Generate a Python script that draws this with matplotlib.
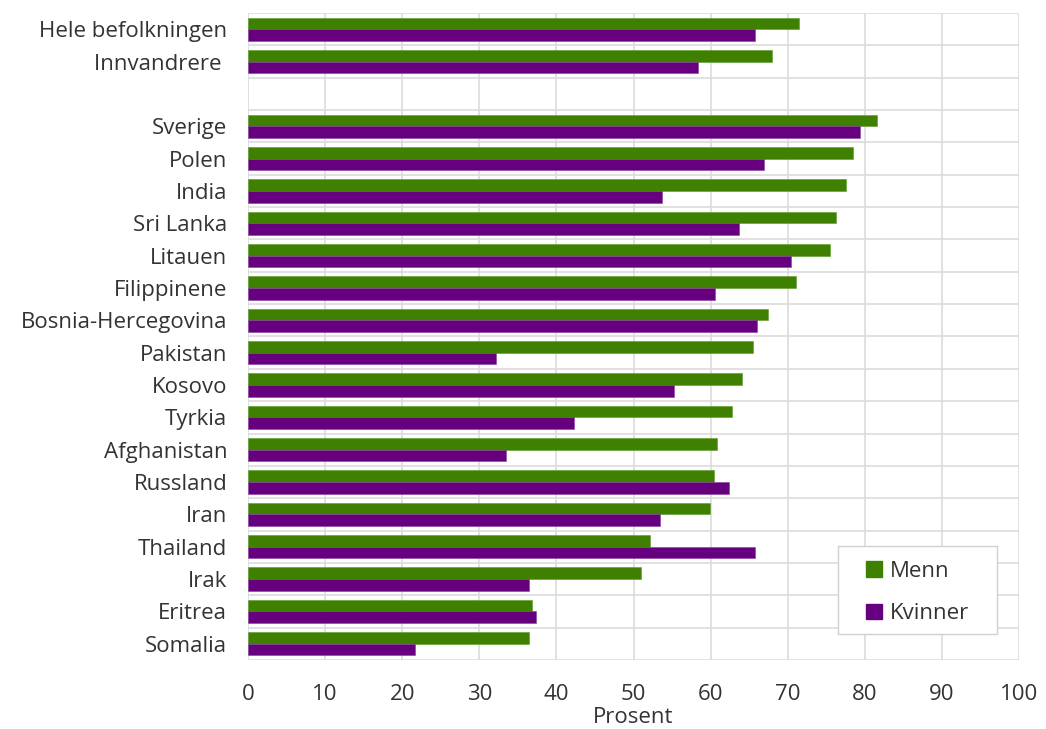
import matplotlib
matplotlib.use("Agg")
import matplotlib.pyplot as plt
import numpy as np
from matplotlib.patches import Patch, Rectangle

categories = ["Hele befolkningen", "Innvandrere ", "",
              "Sverige", "Polen", "India", "Sri Lanka", "Litauen", "Filippinene",
              "Bosnia-Hercegovina", "Pakistan", "Kosovo", "Tyrkia", "Afghanistan",
              "Russland", "Iran", "Thailand", "Irak", "Eritrea", "Somalia"]
menn = [71.5, 68.0, np.nan,
        81.6, 78.5, 77.6, 76.3, 75.5, 71.1,
        67.5, 65.5, 64.1, 62.8, 60.8,
        60.5, 59.9, 52.1, 51.0, 36.9, 36.4]
kvinner = [65.8, 58.4, np.nan,
           79.4, 66.9, 53.7, 63.7, 70.4, 60.6,
           66.0, 32.2, 55.2, 42.3, 33.5,
           62.4, 53.4, 65.8, 36.4, 37.4, 21.7]
xticks = list(range(0, 101, 10))

plt.rcParams['font.family'] = ['Open Sans', 'DejaVu Sans']
green = "#3f8000"
purple = "#66007f"
txt = "#333333"
fs = 16

fig = plt.figure(figsize=(10.46, 7.29), dpi=100)
ax = fig.add_axes([248/1046, 1-660/729, (1019-248)/1046, (660-13)/729])

y = np.arange(len(categories))
h = 0.36
m = np.array(menn, dtype=float)
k = np.array(kvinner, dtype=float)
mask = ~np.isnan(m)
ax.barh(y[mask] - h/2, m[mask], height=h, color=green, edgecolor="#5a9a2a", linewidth=0.4, zorder=3)
ax.barh(y[mask] + h/2, k[mask], height=h, color=purple, edgecolor="#8a40a0", linewidth=0.4, zorder=3)

ax.set_ylim(len(categories) - 0.5, -0.5)
ax.set_xlim(0, 100)
ax.set_yticks(y)
ax.set_yticklabels(categories)
ax.set_yticks(np.arange(-0.5, len(categories) + 0.5, 1), minor=True)
ax.set_xticks(xticks)
ax.set_xticklabels([str(v) for v in xticks])
ax.tick_params(axis='y', which='both', length=0, labelsize=fs, colors=txt, pad=15)
ax.tick_params(axis='x', which='both', length=0, labelsize=fs, colors=txt, pad=17)
ax.grid(axis='x', which='major', color="#dcdcdc", linewidth=1.2, zorder=0)
ax.grid(axis='y', which='minor', color="#dcdcdc", linewidth=1.2, zorder=0)
ax.grid(axis='y', which='major', visible=False)
for s in ax.spines.values():
    s.set_visible(False)
ax.set_xlabel("Prosent", fontsize=fs, color=txt, labelpad=2)

# legend frame drawn manually
x0, x1 = (838 - 248) / 771, (997 - 248) / 771
y0, y1 = (660 - 634) / 647, (660 - 546) / 647
ax.add_patch(Rectangle((x0, y0), x1 - x0, y1 - y0, transform=ax.transAxes,
                       facecolor="white", edgecolor="#d0d0d0", linewidth=1.0, zorder=4))
handles = [Patch(facecolor=green, edgecolor=green), Patch(facecolor=purple, edgecolor=purple)]
leg = ax.legend(handles, ["Menn", "Kvinner"], loc='center',
                bbox_to_anchor=((x0 + x1) / 2, (y0 + y1) / 2 - 0.004),
                frameon=False, fontsize=fs,
                handlelength=0.7, handleheight=0.7, handletextpad=0.35,
                labelspacing=0.98, borderpad=0.0, borderaxespad=0)
leg.set_zorder(5)
for t in leg.get_texts():
    t.set_color(txt)

fig.savefig("out.png", dpi=100)
